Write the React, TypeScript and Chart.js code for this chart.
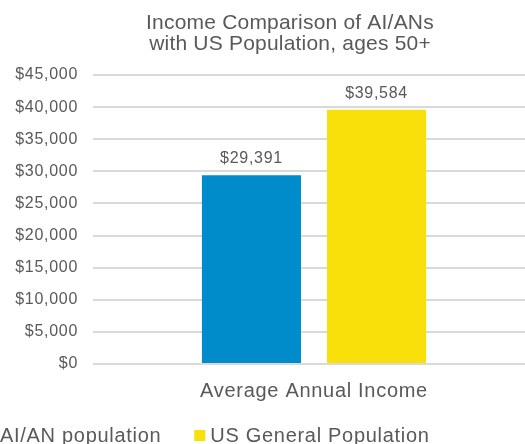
import React, { useEffect, useRef } from "react";
import { Chart, registerables } from "chart.js";

Chart.register(...registerables);

// ---- data ----
const TITLE_LINES = ["Income Comparison of AI/ANs", "with US Population, ages 50+"];
const CATEGORIES = ["Average Annual Income"];
const SERIES_NAMES = ["AI/AN population", "US General Population"];
const AIAN_VALUES = [29391];
const US_VALUES = [39584];
const SERIES_COLORS = ["#008BCB", "#F9E00A"];
const Y_MIN = 0;
const Y_MAX = 45000;
const Y_STEP = 5000;

// ---- style ----
const TEXT = "#595959";
const GRID = "#D9D9D9";
const FAMILY = "'Liberation Sans', Arial, sans-serif";
const SPACING = "0.7px";
const OFFSET_X = 30; // canvas starts left of the window (original is cropped)
const CANVAS_W = 580;
const CANVAS_H = 444;

const money = (v: number) => "$" + v.toLocaleString("en-US");

const customText = {
  id: "customText",
  beforeUpdate(chart: any) {
    chart.ctx.letterSpacing = SPACING;
  },
  beforeDraw(chart: any) {
    chart.ctx.letterSpacing = SPACING;
  },
  afterDatasetsDraw(chart: any) {
    const ctx = chart.ctx;
    ctx.save();
    ctx.letterSpacing = SPACING;
    ctx.font = `16px ${FAMILY}`;
    ctx.fillStyle = TEXT;
    ctx.textAlign = "center";
    ctx.textBaseline = "alphabetic";
    chart.data.datasets.forEach((ds: any, i: number) => {
      const meta = chart.getDatasetMeta(i);
      meta.data.forEach((bar: any, j: number) => {
        const v = ds.data[j] as number;
        ctx.fillText(money(v), bar.x, bar.y - 12);
      });
    });
    ctx.restore();
  },
  afterDraw(chart: any) {
    const ctx = chart.ctx;
    // title
    ctx.save();
    ctx.letterSpacing = "0.2px";
    ctx.font = `21px ${FAMILY}`;
    ctx.fillStyle = TEXT;
    ctx.textAlign = "center";
    ctx.textBaseline = "alphabetic";
    const cx = 290 + OFFSET_X;
    ctx.fillText(TITLE_LINES[0], cx, 28.5);
    ctx.fillText(TITLE_LINES[1], cx, 50);
    ctx.restore();

    // legend
    ctx.save();
    ctx.letterSpacing = SPACING;
    ctx.font = `20px ${FAMILY}`;
    ctx.textAlign = "left";
    ctx.textBaseline = "alphabetic";
    let x = -16 + OFFSET_X;
    chart.data.datasets.forEach((ds: any) => {
      ctx.fillStyle = ds.backgroundColor;
      ctx.fillRect(x, 430, 11, 11);
      ctx.fillStyle = TEXT;
      const tx = x + 16;
      ctx.fillText(ds.label, tx, 441.5);
      x = tx + ctx.measureText(ds.label).width + 33;
    });
    ctx.restore();
  },
};

export default function App() {
  const ref = useRef<HTMLCanvasElement | null>(null);

  useEffect(() => {
    if (!ref.current) return;
    const chart = new Chart(ref.current, {
      type: "bar",
      data: {
        labels: CATEGORIES,
        datasets: [
          {
            label: SERIES_NAMES[0],
            data: AIAN_VALUES,
            backgroundColor: SERIES_COLORS[0],
            barPercentage: 0.792,
            categoryPercentage: 0.566,
          },
          {
            label: SERIES_NAMES[1],
            data: US_VALUES,
            backgroundColor: SERIES_COLORS[1],
            barPercentage: 0.792,
            categoryPercentage: 0.566,
          },
        ],
      },
      options: {
        responsive: false,
        animation: false,
        devicePixelRatio: 1,
        layout: { padding: { top: 75, right: 15, bottom: 0, left: 0 } },
        plugins: {
          legend: { display: false },
          title: { display: false },
          tooltip: { enabled: false },
        },
        scales: {
          x: {
            grid: { display: false, drawTicks: false },
            border: { display: false },
            ticks: {
              color: TEXT,
              font: { family: FAMILY, size: 20 },
              padding: 15,
              maxRotation: 0,
            },
            afterFit(scale: any) {
              scale.height = 80;
            },
          },
          y: {
            min: Y_MIN,
            max: Y_MAX,
            grid: { color: GRID, lineWidth: 2, drawTicks: false },
            border: { display: false },
            ticks: {
              stepSize: Y_STEP,
              color: TEXT,
              font: { family: FAMILY, size: 16 },
              padding: 15,
              callback: (v: any) => money(Number(v)),
            },
            afterFit(scale: any) {
              scale.width = 93 + OFFSET_X;
            },
          },
        },
      },
      plugins: [customText],
    });
    return () => chart.destroy();
  }, []);

  return (
    <div
      style={{
        position: "fixed",
        left: 0,
        top: 0,
        width: 525,
        height: 444,
        overflow: "hidden",
        background: "#fff",
      }}
    >
      <canvas
        ref={ref}
        width={CANVAS_W}
        height={CANVAS_H}
        style={{ position: "absolute", left: -OFFSET_X, top: 0, width: CANVAS_W, height: CANVAS_H }}
      />
    </div>
  );
}
